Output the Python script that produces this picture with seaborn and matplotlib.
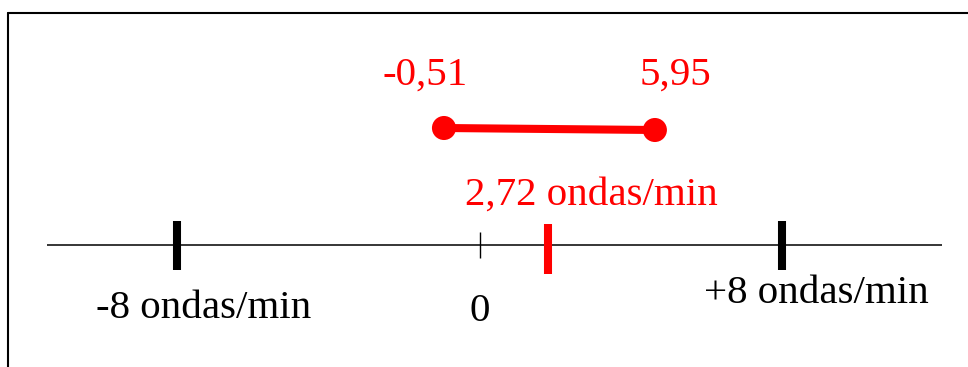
import matplotlib
matplotlib.use("Agg")
import matplotlib.pyplot as plt
import seaborn as sns
import pandas as pd
from matplotlib.lines import Line2D

# Values shown in the diagram (schematic, not to scale)
limit_labels = ["-8 ondas/min", "+8 ondas/min"]
limit_pos = [-8.0, 8.0]
zero_label = "0"
ci_labels = ["-0,51", "5,95"]
ci_pos = [-0.94, 4.64]          # schematic positions on the drawn axis
estimate_label = "2,72 ondas/min"
estimate_pos = 1.81             # schematic position on the drawn axis

sns.set_theme(style="white")
plt.rcParams['font.family'] = ['Liberation Serif', 'DejaVu Serif']

W, H, DPI = 968, 367, 100
fig = plt.figure(figsize=(W / DPI, H / DPI), dpi=DPI)
ax = fig.add_axes([0, 0, 1, 1])
ppu = 37.8
x0 = 479.5

RED = "#ff0000"
axis_y = 245

# number line
ax.plot([(47 - x0) / ppu, (942 - x0) / ppu], [axis_y, axis_y], color="black", lw=1.1, solid_capstyle="butt")
# limit ticks
ax.vlines(limit_pos, 221, 270, color="black", lw=5.8)
ax.vlines([0], 232, 258, color="black", lw=1.0)
ax.vlines([estimate_pos], 224, 274, color=RED, lw=5.8)

# confidence interval
ci_df = pd.DataFrame({"x": ci_pos, "y": [128, 130]})
sns.lineplot(data=ci_df, x="x", y="y", ax=ax, color=RED, lw=5.8, legend=False)
sns.scatterplot(data=ci_df, x="x", y="y", ax=ax, color=RED, s=300, edgecolor="none", legend=False, zorder=3)
ax.set_xlim(-x0 / ppu, (W - x0) / ppu)
ax.set_ylim(H, 0)
ax.axis("off")

fs = 29.5
ax.text((425 - x0) / ppu, 85, ci_labels[0], color=RED, fontsize=fs, ha="center", va="baseline")
ax.text((675 - x0) / ppu, 85, ci_labels[1], color=RED, fontsize=fs, ha="center", va="baseline")
ax.text((591 - x0) / ppu, 205, estimate_label, color=RED, fontsize=fs, ha="center", va="baseline")
ax.text((204 - x0) / ppu, 318, limit_labels[0], color="black", fontsize=fs, ha="center", va="baseline")
ax.text((816 - x0) / ppu, 303, limit_labels[1], color="black", fontsize=fs, ha="center", va="baseline")
ax.text(0, 321, zero_label, color="black", fontsize=fs, ha="center", va="baseline")

# frame (open on right and bottom)
fig.add_artist(Line2D([8 / W, 1.0], [1 - 12.5 / H, 1 - 12.5 / H], color="black", lw=1.5))
fig.add_artist(Line2D([8 / W, 8 / W], [1 - 12.5 / H, 0.0], color="black", lw=1.5))

fig.savefig("out.png", dpi=DPI)
